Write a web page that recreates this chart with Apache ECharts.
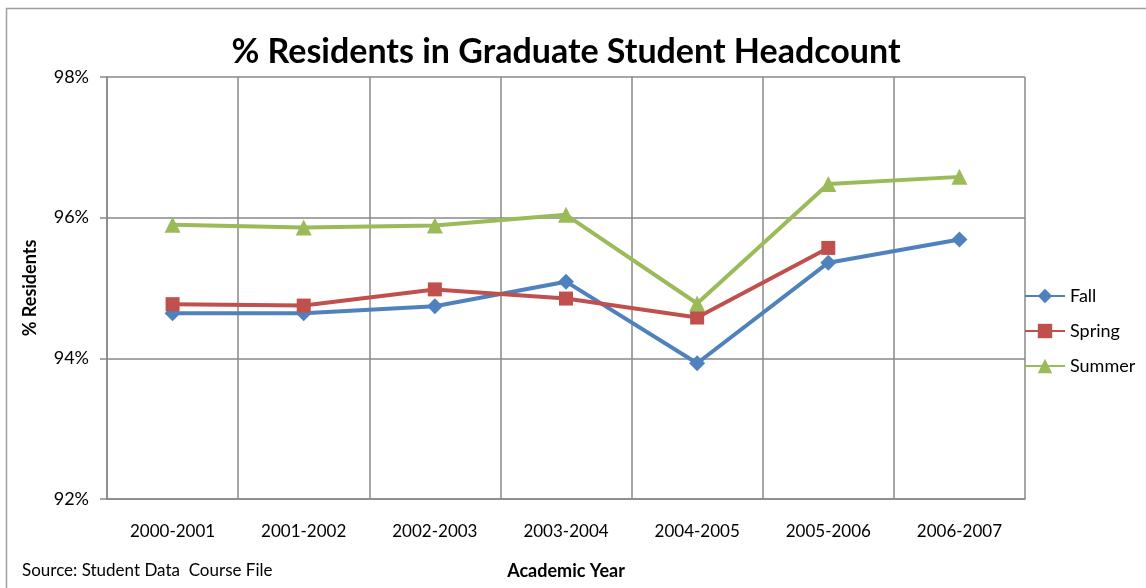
<!DOCTYPE html>
<html>
<head>
<meta charset="utf-8">
<script src="https://cdn.jsdelivr.net/npm/echarts@6/dist/echarts.min.js"></script>
<style>
html,body{margin:0;padding:0;background:#fff;}
#chart{width:1146px;height:588px;}
</style>
</head>
<body>
<div id="chart"></div>
<script>
const categories = ['2000-2001','2001-2002','2002-2003','2003-2004','2004-2005','2005-2006','2006-2007'];
const fall   = [94.64, 94.64, 94.74, 95.09, 93.93, 95.36, 95.69];
const spring = [94.77, 94.75, 94.98, 94.85, 94.58, 95.57, null];
const summer = [95.90, 95.86, 95.89, 96.04, 94.78, 96.48, 96.58];
const yTicks = {min: 92, max: 98, interval: 2};

const FONT = 'Lato';
const chart = echarts.init(document.getElementById('chart'));
chart.setOption({
  animation: false,
  backgroundColor: '#fff',
  textStyle: {fontFamily: FONT},
  title: {
    text: '% Residents in Graduate Student Headcount',
    left: 561, top: 30, textAlign: 'center',
    textStyle: {fontFamily: FONT, fontSize: 34, fontWeight: 'bold', color: '#000'}
  },
  graphic: [
    {type: 'rect', shape: {x: 6.5, y: 8.5, width: 1200, height: 640}, style: {fill: 'none', stroke: '#a0a0a0', lineWidth: 1.5}, z: -1},
    {type: 'text', left: 22, top: 562, style: {text: 'Source: Student Data  Course File', font: '17px ' + FONT, fill: '#000'}}
  ],
  legend: {
    orient: 'vertical', left: 1019, top: 282,
    itemWidth: 40, itemHeight: 18, itemGap: 17,
    textStyle: {fontFamily: FONT, fontSize: 18, color: '#000'},
    data: ['Fall', 'Spring', 'Summer']
  },
  grid: {left: 107, top: 77, width: 918, height: 422, containLabel: false},
  xAxis: {
    type: 'category', data: categories, boundaryGap: true,
    name: 'Academic Year', nameLocation: 'middle', nameGap: 63,
    nameTextStyle: {fontFamily: FONT, fontSize: 18, fontWeight: 'bold', color: '#000'},
    axisLine: {lineStyle: {color: '#888', width: 1.5}},
    axisTick: {show: false},
    axisLabel: {fontFamily: FONT, fontSize: 17, color: '#000', margin: 24},
    splitLine: {show: true, lineStyle: {color: '#888', width: 1.5}}
  },
  yAxis: {
    type: 'value', min: yTicks.min, max: yTicks.max, interval: yTicks.interval,
    name: '% Residents', nameLocation: 'middle', nameGap: 68,
    nameTextStyle: {fontFamily: FONT, fontSize: 18, fontWeight: 'bold', color: '#000'},
    axisLine: {show: true, lineStyle: {color: '#888', width: 1.5}},
    axisTick: {show: true, length: 7, lineStyle: {color: '#888', width: 1.5}},
    axisLabel: {fontFamily: FONT, fontSize: 18, color: '#000', margin: 18, formatter: '{value}%'},
    splitLine: {show: true, lineStyle: {color: '#888', width: 1.5}}
  },
  series: [
    {name: 'Fall', type: 'line', data: fall, symbol: 'diamond', symbolSize: 16,
     itemStyle: {color: '#4F81BD'}, lineStyle: {width: 4, color: '#4F81BD'}, z: 3},
    {name: 'Spring', type: 'line', data: spring, symbol: 'rect', symbolSize: 14,
     itemStyle: {color: '#C0504D'}, lineStyle: {width: 4, color: '#C0504D'}, z: 4},
    {name: 'Summer', type: 'line', data: summer, symbol: 'triangle', symbolSize: 16,
     itemStyle: {color: '#9BBB59'}, lineStyle: {width: 4, color: '#9BBB59'}, z: 5}
  ]
});
</script>
</body>
</html>
